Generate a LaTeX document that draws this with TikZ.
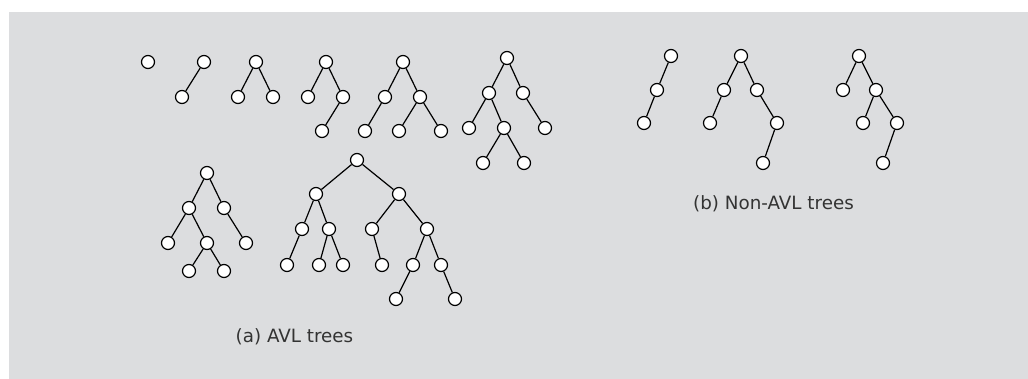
\documentclass[tikz,border=0pt]{standalone}
\usepackage{fontspec}
\setmainfont{DejaVu Sans}
\definecolor{panel}{HTML}{DCDDDF}
\definecolor{captxt}{HTML}{333333}
\tikzset{
  vtx/.style={circle,draw=black,fill=white,line width=1.2pt,minimum size=13pt,inner sep=0pt},
  branch/.style={line width=1.2pt},
  capt/.style={anchor=base,text=captxt,font=\fontsize{18.3}{22}\selectfont}
}
\begin{document}
\begin{tikzpicture}[x=1pt,y=-1pt]
  \useasboundingbox (0,0) rectangle (1028,379);
  \fill[panel] (9,12) rectangle (1028,379);
  \foreach \n/\x/\y in {t1a/148/62,
      t2a/204/62, t2b/182/97,
      t3a/256/62, t3b/238/97, t3c/273/97,
      t4a/326/62, t4b/308/97, t4c/343/97, t4d/322/131,
      t5a/403/62, t5b/385/97, t5c/420/97, t5d/365/131, t5e/399/131, t5f/441/131,
      t6a/507/58, t6b/489/93, t6c/523/93, t6d/469/128, t6e/504/128, t6f/545/128, t6g/483/163, t6h/524/163,
      t7a/207/173, t7b/189/208, t7c/224/208, t7d/168/243, t7e/207/243, t7f/246/243, t7g/189/271, t7h/224/271,
      t8a/357/160, t8b/316/194, t8c/399/194, t8d/302/229, t8e/329/229, t8f/372/229, t8g/427/229,
      t8h/287/265, t8i/319/265, t8j/343/265, t8k/382/265, t8l/413/265, t8m/441/265, t8n/396/299, t8o/455/299,
      n1a/671/56, n1b/657/90, n1c/644/123,
      n2a/741/56, n2b/724/90, n2c/757/90, n2d/710/123, n2e/777/123, n2f/763/163,
      n3a/859/56, n3b/843/90, n3c/876/90, n3d/863/123, n3e/897/123, n3f/883/163}
    { \node[vtx] (\n) at (\x,\y) {}; }
  \foreach \u/\v in {t2a/t2b, t3a/t3b, t3a/t3c, t4a/t4b, t4a/t4c, t4c/t4d,
      t5a/t5b, t5a/t5c, t5b/t5d, t5c/t5e, t5c/t5f,
      t6a/t6b, t6a/t6c, t6b/t6d, t6b/t6e, t6c/t6f, t6e/t6g, t6e/t6h,
      t7a/t7b, t7a/t7c, t7b/t7d, t7b/t7e, t7c/t7f, t7e/t7g, t7e/t7h,
      t8a/t8b, t8a/t8c, t8b/t8d, t8b/t8e, t8c/t8f, t8c/t8g, t8d/t8h, t8e/t8i, t8e/t8j,
      t8f/t8k, t8g/t8l, t8g/t8m, t8l/t8n, t8m/t8o,
      n1a/n1b, n1b/n1c,
      n2a/n2b, n2a/n2c, n2b/n2d, n2c/n2e, n2e/n2f,
      n3a/n3b, n3a/n3c, n3c/n3d, n3c/n3e, n3e/n3f}
    { \draw[branch] (\u) -- (\v); }
  \node[capt] (avl) at (294.5,342) {(a) AVL trees};
  \node[capt] (nonavl) at (773.5,210) {(b) Non-AVL trees};
\end{tikzpicture}
\end{document}
